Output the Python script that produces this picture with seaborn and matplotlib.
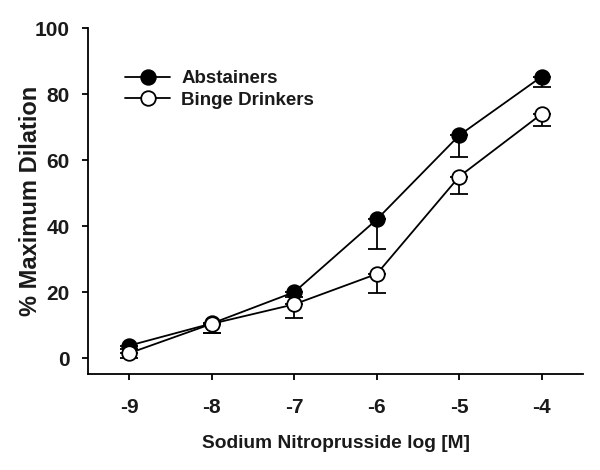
import matplotlib
matplotlib.use("Agg")
import matplotlib.pyplot as plt
from matplotlib.lines import Line2D
import seaborn as sns
import pandas as pd

# Data
log_conc = [-9, -8, -7, -6, -5, -4]
abstainers = [3.8, 10.5, 20.0, 42.0, 67.5, 85.3]
abstainers_err = [1.0, 2.8, 1.5, 9.0, 6.5, 3.3]
binge = [1.5, 10.4, 16.3, 25.5, 55.0, 74.0]
binge_err = [1.5, 2.7, 4.0, 5.7, 5.2, 3.7]
series_names = ["Abstainers", "Binge Drinkers"]

sns.set_style("ticks")
plt.rcParams['font.family'] = ['Liberation Sans', 'DejaVu Sans']
plt.rcParams['font.weight'] = 'bold'
plt.rcParams['axes.unicode_minus'] = False
text_col = "#1a1a1a"

df = pd.DataFrame({
    "x": log_conc * 2,
    "y": abstainers + binge,
    "group": [series_names[0]] * len(log_conc) + [series_names[1]] * len(log_conc),
})

fig = plt.figure(figsize=(6, 4.7), dpi=100)
ax = fig.add_axes([0.1467, 0.2043, 0.825, 0.7361])

# lower-only error bars
for vals, errs in [(abstainers, abstainers_err), (binge, binge_err)]:
    ax.errorbar(log_conc, vals, yerr=[errs, [0] * len(errs)], fmt="none",
                ecolor="black", elinewidth=1.3, capsize=6.5, capthick=1.3, zorder=2)

sns.lineplot(data=df, x="x", y="y", hue="group", style="group",
             palette=["black", "black"], markers=["o", "o"], dashes=False,
             linewidth=1.3, markersize=10.5, ax=ax, zorder=3, legend=False)

# marker faces: filled vs open
lines = ax.get_lines()
lines[-2].set_markerfacecolor("black")
lines[-1].set_markerfacecolor("white")
for ln in lines[-2:]:
    ln.set_markeredgecolor("black")
    ln.set_markeredgewidth(1.3)

handles = [Line2D([], [], color="black", lw=1.3, marker="o", markersize=10.5,
                  markerfacecolor=fc, markeredgecolor="black", markeredgewidth=1.3)
           for fc in ["black", "white"]]
leg = ax.legend(handles, series_names, loc="upper left", bbox_to_anchor=(0.06, 0.9),
                frameon=False, fontsize=13.5, handlelength=2.4, handletextpad=0.6,
                labelspacing=0.25, borderaxespad=0)
for t in leg.get_texts():
    t.set_color(text_col)

ax.set_xlim(-9.5, -3.5)
ax.set_ylim(-4.8, 100)
ax.set_xticks(log_conc)
ax.set_yticks([0, 20, 40, 60, 80, 100])
ax.tick_params(labelsize=15, width=1.3, length=4, direction="out",
               color="black", labelcolor=text_col)
ax.tick_params(axis="x", pad=13)
ax.tick_params(axis="y", pad=9)
for lab in ax.get_xticklabels() + ax.get_yticklabels():
    lab.set_fontweight("bold")
ax.set_xlabel("Sodium Nitroprusside log [M]", fontsize=13.8, fontweight="bold",
              labelpad=13, color=text_col)
ax.set_ylabel("% Maximum Dilation", fontsize=17, fontweight="bold",
              labelpad=-5, color=text_col)
sns.despine(ax=ax)
for sp in ["left", "bottom"]:
    ax.spines[sp].set_linewidth(1.3)
    ax.spines[sp].set_color("black")

fig.savefig("out.png", dpi=100)
